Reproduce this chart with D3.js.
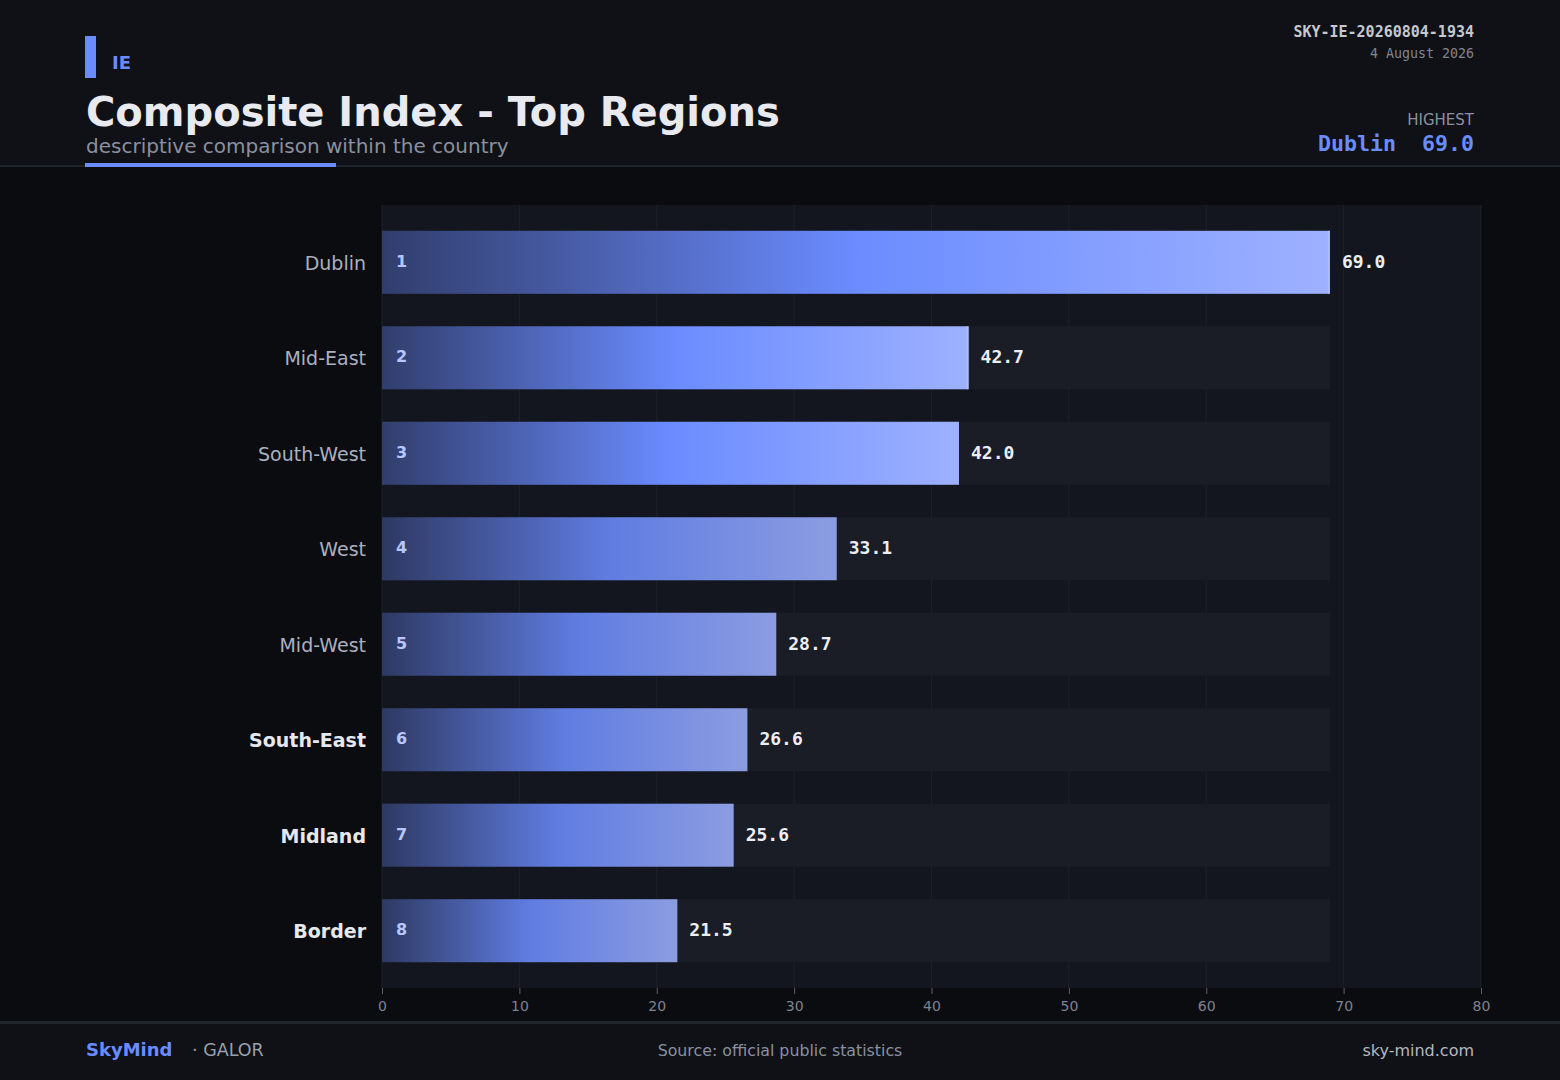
<!DOCTYPE html>
<html>
<head>
<meta charset="utf-8">
<script src="https://cdn.jsdelivr.net/npm/d3@7"></script>
<style>
  html, body { margin: 0; padding: 0; background: #0b0c10; }
  svg { display: block; font-family: "DejaVu Sans", sans-serif; }
</style>
</head>
<body>
<div id="viz"></div>
<script>
// data
const regions = ["Dublin", "Mid-East", "South-West", "West", "Mid-West", "South-East", "Midland", "Border"];
const values = [69.0, 42.7, 42.0, 33.1, 28.7, 26.6, 25.6, 21.5];
const boldLabels = ["South-East", "Midland", "Border"];
const xTicks = [0, 10, 20, 30, 40, 50, 60, 70, 80];

const width = 1560, height = 1080;
const mono = "'DejaVu Sans Mono', monospace";
const accent = "#6b8cff";

const svg = d3.select("#viz").append("svg")
    .attr("width", width)
    .attr("height", height);

svg.append("rect").attr("width", width).attr("height", height).attr("fill", "#0b0c10");

// header
svg.append("rect").attr("width", width).attr("height", 166).attr("fill", "#0f1117");
svg.append("rect").attr("y", 165).attr("width", width).attr("height", 2).attr("fill", "#1f232b");
svg.append("rect").attr("x", 85).attr("y", 36).attr("width", 11).attr("height", 42).attr("fill", accent);
svg.append("text").attr("x", 112).attr("y", 69)
    .attr("font-size", 18).attr("font-weight", "bold").attr("fill", accent).text("IE");
svg.append("text").attr("x", 86).attr("y", 126)
    .attr("font-size", 40).attr("font-weight", "bold").attr("fill", "#e8eaf0")
    .text("Composite Index - Top Regions");
svg.append("text").attr("x", 86).attr("y", 153)
    .attr("font-size", 20).attr("fill", "#8a90a0")
    .text("descriptive comparison within the country");
svg.append("rect").attr("x", 85).attr("y", 163).attr("width", 251).attr("height", 4).attr("fill", accent);

svg.append("text").attr("x", 1474).attr("y", 37).attr("text-anchor", "end")
    .attr("font-family", mono).attr("font-size", 15).attr("font-weight", "bold").attr("fill", "#c4c8d0")
    .text("SKY-IE-20260804-1934");
svg.append("text").attr("x", 1474).attr("y", 58).attr("text-anchor", "end")
    .attr("font-family", mono).attr("font-size", 13.3).attr("fill", "#80858f")
    .text("4 August 2026");
svg.append("text").attr("x", 1474).attr("y", 125).attr("text-anchor", "end")
    .attr("font-size", 15).attr("fill", "#8a90a0").text("HIGHEST");

const topIdx = d3.maxIndex(values);
svg.append("text").attr("x", 1474).attr("y", 151).attr("text-anchor", "end")
    .attr("font-family", mono).attr("font-size", 21.6).attr("font-weight", "bold").attr("fill", accent)
    .text(values[topIdx].toFixed(1));
svg.append("text").attr("x", 1396).attr("y", 151).attr("text-anchor", "end")
    .attr("font-family", mono).attr("font-size", 21.6).attr("font-weight", "bold").attr("fill", accent)
    .text(regions[topIdx]);

// plot
const plot = { left: 382, right: 1481, top: 205, bottom: 988 };

const x = d3.scaleLinear().domain([0, 80]).range([plot.left, plot.right]);
const y = d3.scaleBand().domain(regions).range([plot.top, plot.bottom])
    .paddingInner(0.34).paddingOuter(0.27);

svg.append("rect")
    .attr("x", plot.left).attr("y", plot.top)
    .attr("width", plot.right - plot.left).attr("height", plot.bottom - plot.top)
    .attr("fill", "#13161e");

svg.append("g").selectAll("line").data(xTicks).join("line")
    .attr("x1", d => x(d)).attr("x2", d => x(d))
    .attr("y1", plot.top).attr("y2", plot.bottom)
    .attr("stroke", "#1d2029").attr("stroke-width", 1);

const defs = svg.append("defs");
const grad = defs.append("linearGradient").attr("id", "barGrad")
    .attr("x1", "0%").attr("x2", "100%").attr("y1", "0%").attr("y2", "0%");
grad.append("stop").attr("offset", "0%").attr("stop-color", "#313d6c");
grad.append("stop").attr("offset", "50%").attr("stop-color", "#6b8cff");
grad.append("stop").attr("offset", "100%").attr("stop-color", "#9eb1ff");

const maxV = d3.max(values);
const rows = svg.append("g").selectAll("g").data(regions).join("g");

// track
rows.append("rect")
    .attr("x", x(0)).attr("y", d => y(d))
    .attr("width", x(maxV) - x(0)).attr("height", y.bandwidth())
    .attr("fill", "#1a1d26");

rows.append("rect")
    .attr("x", x(0)).attr("y", d => y(d))
    .attr("width", (d, i) => x(values[i]) - x(0)).attr("height", y.bandwidth())
    .attr("fill", "url(#barGrad)")
    .attr("opacity", (d, i) => i < 3 ? 1 : 0.86);

rows.filter((d, i) => i < 2).append("rect")
    .attr("x", (d, i) => x(values[i]) - 2).attr("y", d => y(d))
    .attr("width", 2).attr("height", y.bandwidth())
    .attr("fill", "#b4c3ff").attr("opacity", 0.7);

rows.append("text")
    .attr("x", x(0) + 14).attr("y", d => y(d) + y.bandwidth() / 2 - 1)
    .attr("dy", "0.35em")
    .attr("font-size", 16).attr("font-weight", "bold").attr("fill", "#b8c6ff")
    .text((d, i) => i + 1);

rows.append("text")
    .attr("x", (d, i) => x(values[i]) + 12).attr("y", d => y(d) + y.bandwidth() / 2 - 1)
    .attr("dy", "0.35em")
    .attr("font-family", mono).attr("font-size", 18).attr("font-weight", "bold").attr("fill", "#eceef3")
    .text((d, i) => values[i].toFixed(1));

rows.append("text")
    .attr("x", plot.left - 16).attr("y", d => y(d) + y.bandwidth() / 2 + 1)
    .attr("dy", "0.35em").attr("text-anchor", "end")
    .attr("font-size", 19)
    .attr("font-weight", d => boldLabels.includes(d) ? "bold" : "normal")
    .attr("fill", d => boldLabels.includes(d) ? "#e6e8ee" : "#aab0c0")
    .text(d => d);

// x axis
const xAxis = svg.append("g")
    .attr("transform", `translate(0,${plot.bottom})`)
    .call(d3.axisBottom(x).tickValues(xTicks).tickSize(6).tickPadding(7));
xAxis.select(".domain").remove();
xAxis.selectAll("line").attr("stroke", "#5a606c");
xAxis.selectAll("text").attr("fill", "#7d8391").attr("font-size", 14)
    .attr("font-family", "'DejaVu Sans', sans-serif");

// footer
svg.append("rect").attr("y", 1021).attr("width", width).attr("height", 59).attr("fill", "#0f1117");
svg.append("rect").attr("y", 1021).attr("width", width).attr("height", 3).attr("fill", "#1f232b");
svg.append("text").attr("x", 86).attr("y", 1056)
    .attr("font-size", 18).attr("font-weight", "bold").attr("fill", accent).text("SkyMind");
svg.append("text").attr("x", 192).attr("y", 1056)
    .attr("font-size", 17.5).attr("fill", "#9aa0aa").text("· GALOR");
svg.append("text").attr("x", 780).attr("y", 1056).attr("text-anchor", "middle")
    .attr("font-size", 15.8).attr("fill", "#8a90a0").text("Source: official public statistics");
svg.append("text").attr("x", 1474).attr("y", 1056).attr("text-anchor", "end")
    .attr("font-size", 16).attr("fill", "#b4b8c0").text("sky-mind.com");
</script>
</body>
</html>
